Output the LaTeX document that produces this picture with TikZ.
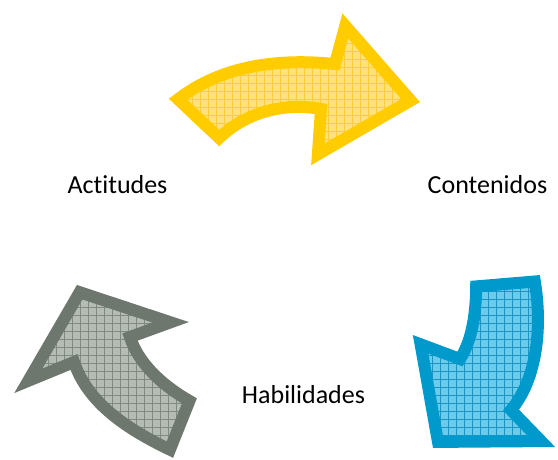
\documentclass[tikz,border=0pt]{standalone}
\usepackage{fontspec}
\setmainfont{Carlito}[Ligatures=NoCommon]
\usetikzlibrary{patterns.meta}
\definecolor{ybord}{HTML}{FFCC00}
\definecolor{yfill}{HTML}{FFE27A}
\definecolor{ygrid}{HTML}{FFCC33}
\definecolor{gbord}{HTML}{6E776D}
\definecolor{gfill}{HTML}{B4BCB4}
\definecolor{ggrid}{HTML}{808A80}
\definecolor{bbord}{HTML}{0099CC}
\definecolor{bfill}{HTML}{6CCBEA}
\definecolor{bgrid}{HTML}{1B95C6}
\tikzset{
  arrowshape/.style n args={3}{draw=#1, line width=12pt, line join=miter, miter limit=20,
    preaction={fill=#2},
    preaction={pattern={Hatch[distance=8pt,line width=0.6pt]}, pattern color=#3}},
  lbl/.style={anchor=base, inner sep=0pt, font=\fontsize{26}{30}\selectfont}
}
\begin{document}
\begin{tikzpicture}[x=1pt,y=-1pt]
\useasboundingbox (0,0) rectangle (558,459);
% yellow arrow
\path[arrowshape={ybord}{yfill}{ygrid}]
  (178.1,99.2) .. controls (215,71) and (265,57) .. (335,64)
  -- (345.3,25.8) -- (410.7,100.5) -- (317.9,154.3) -- (321,109)
  .. controls (283,102) and (245,113) .. (219.2,138) -- cycle;
% gray arrow
\path[arrowshape={gbord}{gfill}{ggrid}]
  (79.7,292.2) -- (170.6,322.3) -- (130,337)
  .. controls (138,362) and (160,384) .. (189.4,400.9)
  -- (169.9,449.6)
  .. controls (129,430) and (88,404) .. (74,362)
  -- (28.3,380.8) -- cycle;
% blue arrow
\path[arrowshape={bbord}{bfill}{bgrid}]
  (476.2,286.4) -- (534.8,281.5)
  .. controls (542,325) and (538,378) .. (511,410)
  -- (541.1,441.1) -- (438,441.9) -- (420.6,344.3) -- (460,359)
  .. controls (473,339) and (476,310) .. (476.2,286.4) -- cycle;
\node[lbl] (act) at (117.5,193) {Act\kern0pt itudes};
\node[lbl] (con) at (487.5,193) {Contenidos};
\node[lbl] (hab) at (303.5,403) {Habilidades};
\end{tikzpicture}
\end{document}
